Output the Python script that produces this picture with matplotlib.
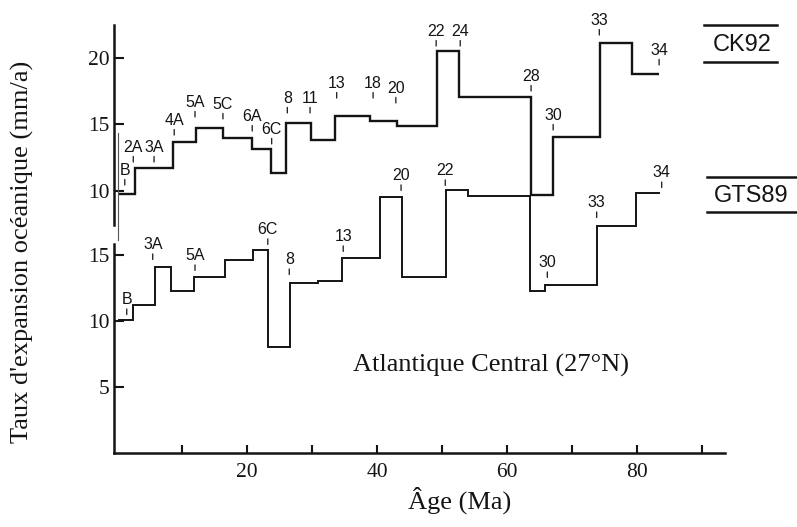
import matplotlib
matplotlib.use("Agg")
import matplotlib.pyplot as plt
from matplotlib.lines import Line2D

# ---- data -------------------------------------------------------------
# CK92 time scale: interval boundaries (Ma) and spreading rates (mm/a)
ck92_edges = [0.15, 2.8, 8.6, 12.15, 16.3, 20.8, 23.7, 26.0, 29.8, 33.5,
              38.9, 43.0, 49.2, 52.6, 63.7, 67.1, 74.3, 79.2, 83.4]
ck92_rates = [9.75, 11.7, 13.65, 14.7, 13.95, 13.1, 11.3, 15.1, 13.8,
              15.6, 15.25, 14.85, 20.5, 17.0, 9.65, 14.0, 21.1, 18.75]
ck92_origin_span = [6.3, 14.3]

# GTS89 time scale
gts89_edges = [0.15, 2.46, 5.85, 8.31, 11.85, 16.6, 20.9, 23.2, 26.6, 30.9,
               34.6, 40.5, 43.8, 50.6, 54.0, 63.5, 65.8, 73.8, 79.8, 83.5]
gts89_rates = [10.1, 11.2, 14.1, 12.25, 13.3, 14.6, 15.35, 8.0, 12.85,
               13.05, 14.8, 19.4, 13.35, 19.9, 19.45, 12.3, 12.7, 17.2, 19.7]

# magnetic anomaly markers (name, age, rate level under the marker)
ck92_anom = ["B", "2A", "3A", "4A", "5A", "5C", "6A", "6C", "8", "11", "13",
             "18", "20", "22", "24", "28", "30", "33", "34"]
ck92_anom_age = [1.2, 2.5, 5.7, 8.8, 12.0, 16.3, 20.8, 23.8, 26.2, 29.7,
                 33.8, 39.4, 42.9, 49.1, 52.8, 63.7, 67.1, 74.2, 83.4]
ck92_anom_level = [10.41, 12.14, 12.14, 14.17, 15.53, 15.38, 14.47, 13.5,
                   15.83, 15.83, 16.95, 16.95, 16.58, 20.86, 20.86, 17.48,
                   14.55, 21.69, 19.44]

gts89_anom = ["B", "3A", "5A", "6C", "8", "13", "20", "22", "30", "33", "34"]
gts89_anom_age = [1.5, 5.5, 12.0, 23.2, 26.5, 34.8, 43.7, 50.5, 66.2, 73.8,
                  83.8]
gts89_anom_level = [10.49, 14.66, 13.83, 15.8, 13.52, 15.27, 19.89, 20.27,
                    13.30, 17.84, 20.11]

x_ticks = [10, 20, 30, 40, 50, 60, 70, 80, 90]
x_ticklabels = ["", "20", "", "40", "", "60", "", "80", ""]
ck92_yticks = [10, 15, 20]
gts89_yticks = [5, 10, 15]

# ---- figure -----------------------------------------------------------
W, H = 797, 527
INK = "#141414"
SERIF = ["Liberation Serif", "DejaVu Serif"]
SANS = ["Liberation Sans", "DejaVu Sans"]

fig = plt.figure(figsize=(W / 100, H / 100), dpi=100)
fig.patch.set_facecolor("white")

left, right = 113.75, 724.75
top, bottom = 25, 453
rect = [left / W, 1 - bottom / H, (right - left) / W, (bottom - top) / H]

ax_b = fig.add_axes(rect)
ax_t = fig.add_axes(rect)
for ax in (ax_b, ax_t):
    ax.set_facecolor("none")
    ax.set_xlim(-0.5, 93.5)
    for s in ("top", "right"):
        ax.spines[s].set_visible(False)
    ax.spines["left"].set_linewidth(1.8)
    ax.spines["left"].set_color(INK)
    ax.spines["bottom"].set_linewidth(1.8)
    ax.spines["bottom"].set_color(INK)

ax_b.set_ylim(0, (bottom - top) / 13.2)
ax_t.set_ylim(15 - (bottom - 124) / 13.3, 15 + (124 - top) / 13.3)

ax_b.spines["left"].set_bounds(0, 15.8)
ax_t.spines["left"].set_bounds(7.41, ax_t.get_ylim()[1])
ax_t.spines["bottom"].set_visible(False)

ax_b.set_xticks(x_ticks)
ax_b.set_xticklabels(x_ticklabels, fontfamily=SERIF, fontsize=15.5)
ax_b.tick_params(axis="x", direction="in", length=6, width=1.5,
                 color=INK, pad=7, labelcolor=INK)
ax_t.set_xticks([])

ax_b.set_yticks(gts89_yticks)
ax_t.set_yticks(ck92_yticks)
for ax in (ax_b, ax_t):
    ax.set_yticklabels([str(v) for v in ax.get_yticks()],
                       fontfamily=SERIF, fontsize=15.5)
    ax.tick_params(axis="y", direction="in", length=7, width=1.5,
                   color=INK, pad=3, labelcolor=INK)

# step curves
ax_t.stairs(ck92_rates, ck92_edges, baseline=None, color=INK, lw=1.7)
ax_t.plot([ck92_edges[0]] * 2, ck92_origin_span, color="#555555", lw=0.8)
ax_b.stairs(gts89_rates, gts89_edges, baseline=None, color=INK, lw=1.4)


def mark_anomalies(ax, names, ages, levels):
    for name, a, lv in zip(names, ages, levels):
        ax.annotate("", xy=(a, lv), xytext=(0, 4), textcoords="offset points",
                    arrowprops=dict(arrowstyle="-", lw=0.9, color=INK,
                                    shrinkA=0, shrinkB=0))
        ax.annotate(name, xy=(a, lv), xytext=(0, 7.5),
                    textcoords="offset points", ha="center", va="baseline",
                    fontfamily=SANS, fontsize=11.5, color=INK)


mark_anomalies(ax_t, ck92_anom, ck92_anom_age, ck92_anom_level)
mark_anomalies(ax_b, gts89_anom, gts89_anom_age, gts89_anom_level)

# axis titles and region label
fig.text(22 / W, 1 - 252 / H, "Taux d'expansion océanique (mm/a)",
         rotation=90, ha="center", va="center", fontfamily=SERIF,
         fontsize=19, color=INK)
fig.text(460 / W, 1 - 500 / H, "Âge (Ma)", ha="center", va="center",
         fontfamily=SERIF, fontsize=19, color=INK)
fig.text(491 / W, 1 - 365 / H, "Atlantique Central (27°N)", ha="center",
         va="center", fontfamily=SERIF, fontsize=19, color=INK)

# time-scale names with over/under rules
for name, cx, cy, x0, x1, y_over, y_under in (
        ("CK92", 742, 45, 704, 777, 25, 62),
        ("GTS89", 751, 196, 707, 796, 177, 212)):
    fig.text(cx / W, 1 - cy / H, name, ha="center", va="center",
             fontfamily=SANS, fontsize=17, color=INK)
    for yy in (y_over, y_under):
        fig.add_artist(Line2D([x0 / W, x1 / W], [1 - yy / H] * 2,
                              transform=fig.transFigure, color=INK, lw=1.8))

fig.savefig("out.png", dpi=100, facecolor="white")
